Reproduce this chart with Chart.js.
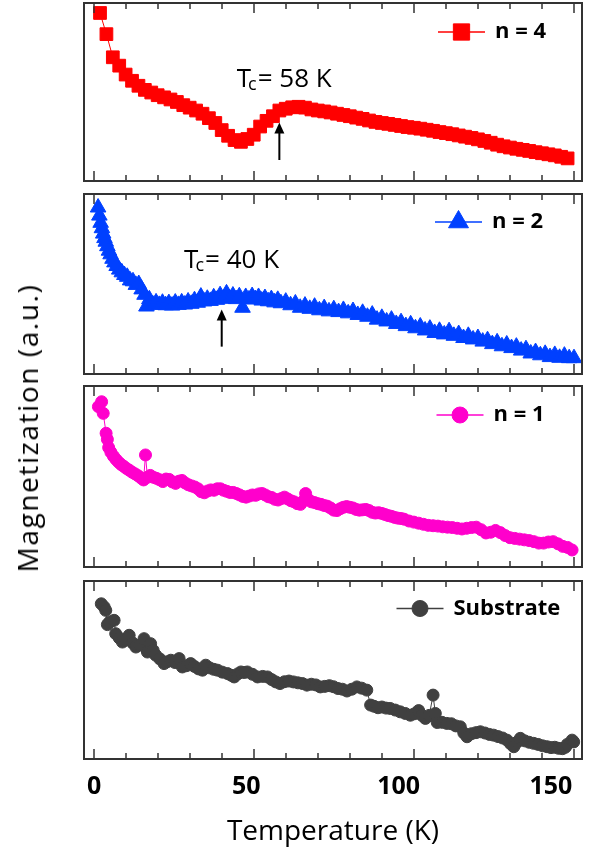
<!DOCTYPE html>
<html>
<head>
<meta charset="utf-8">
<script src="https://cdn.jsdelivr.net/npm/chart.js@4.4.0/dist/chart.umd.min.js"></script>
<style>
  body { margin: 0; background: #fff; }
  #wrap { position: relative; width: 603px; height: 854px; overflow: hidden; font-family: "Open Sans", "DejaVu Sans", sans-serif; }
  #wrap canvas { position: absolute; left: 0; }
  #ytitle {
    position: absolute; left: 27px; top: 428px;
    transform: translate(-50%, -50%) rotate(-90deg);
    white-space: nowrap; font-size: 28px; letter-spacing: 1.6px; color: #000;
  }
</style>
</head>
<body>
<div id="wrap">
  <canvas id="p1"></canvas>
  <canvas id="p2"></canvas>
  <canvas id="p3"></canvas>
  <canvas id="p4"></canvas>
  <div id="ytitle">Magnetization (a.u.)</div>
</div>
<script>
// temperature (K) and magnetization (a.u.) for each sample
const tempsN4 = [2,4,6,8,10,12,14,16,18,20,22,24,26,28,30,32,34,36,38,40,42,44,46,48,50,52,54,56,58,60,
  62,64,66,68,70,72,74,76,78,80,82,84,86,88,90,92,94,96,98,100,102,104,106,108,110,112,114,116,118,120,
  122,124,126,128,130,132,134,136,138,140,142,144,146,148];
const magN4 = [94.4,82.5,69.5,64.8,59.8,56.3,53.5,51.2,49.7,48.2,47,45.8,44.4,42.6,41.2,39.6,37.8,35.3,32.6,28.6,
  25.4,23,22,23.6,26,30.6,33.8,36.4,39.6,40.6,41.4,41.7,41.2,40.2,39.6,39.1,38.5,37.8,37.1,36.4,
  35.6,34.9,34,33.2,32.6,32.1,31.5,30.9,30.3,29.9,29.4,28.8,28.2,27.5,26.9,26.3,25.6,24.9,24.2,23.4,
  22.5,21.5,20.4,19.5,18.8,18.1,17.5,16.9,16.2,15.6,15,14.4,13.6,12.7];

const tempsN2 = [1.4,1.8,2.2,2.6,3.0,3.4,3.8,4.3,4.8,5.3,5.9,6.5,7.2,8.0,8.8,9.6,10.5,11.4,12.3,13.2,
  14.1,15.0,15.9,16.5,17.4,18.5,19.5,20.5,21.5,22.5,23.5,24.5,25.5,26.5,27.5,28.5,29.5,30.5,31.5,32.5,
  33.5,34.5,35.5,36.5,37.5,38.5,39.5,40.5,41.5,42.5,43.5,44.5,45.5,46.5,47.5,48.5,49.5,50.5,51.5,52.5,
  53.5,54.5,55.5,56.5,57.5,58.5,60,61.5,63,64.5,66,67.5,69,70.5,72,73.5,75,76.5,78,79.5,
  81,82.5,84,85.5,87,88.5,90,91.5,93,94.5,96,97.5,99,100.5,102,103.5,105,106.5,108,109.5,
  111,112.5,114,115.5,117,118.5,120,121.5,123,124.5,126,127.5,129,130.5,132,133.5,135,136.5,138,139.5,
  141,142.5,144,145.5,147,148.5,150];
const magN2 = [92.5,88,84,81,78,75.5,73.5,71,68.5,66.5,64,62,60,58,56.5,55,54,52,51.5,49.5,
  50,47,44,37.5,41.5,38.6,39.8,38.4,39.6,38.2,39.4,38,39.7,38.4,39.8,38.6,40.3,39,41,39.6,
  43,40.3,41.8,40.6,42.6,41.2,43.8,41.8,44.8,42,43.6,41.6,43.2,36.8,42.8,41.4,43.3,41.6,42.8,40.8,
  42.2,40.4,41.6,39.8,41.2,39.3,40.2,38.2,39.2,36.8,38,36.2,37.4,35.4,36.6,34.8,36,34.4,35.6,33.7,
  35,32.8,34,31.8,33,30.2,31.2,29.2,30.2,27.8,28.8,26.6,27.6,25.4,26.4,24.2,25.2,22.8,24,22,
  23.8,21.2,22.2,20,21.2,19.2,20,18,18.8,16.6,17.6,15.4,16.4,14.4,15.2,13,13.8,11.4,12.2,10.4,
  11.2,9.4,10.6,9,10.2,8.8,8.8];

const tempsN1 = [1.5,2.5,3.0,3.9,4.3,4.7,5.4,6.2,7.0,7.8,8.6,9.4,10.3,11.2,12.1,13.0,13.9,14.8,15.6,16.2,
  16.8,17.7,18.6,19.6,20.6,21.6,22.6,23.6,24.6,25.6,26.6,27.6,28.6,29.6,30.6,31.6,32.6,33.6,34.6,35.6,
  36.6,37.6,38.6,39.6,40.6,41.6,42.6,43.6,44.6,45.6,46.6,47.6,48.6,49.6,50.6,51.6,52.6,53.6,54.6,55.6,
  56.6,57.6,58.6,59.6,60.6,61.6,62.6,63.6,64.6,65.5,66.2,67,68,69,70,71,72,73,74,75,
  76,77,78,79,80,81,82,83,84,85,86,87,88,89,90,91,92,93,94,95,
  96,97,98.5,100,101.5,103,104.5,106,107.5,109,110.5,112,113.5,115,116.5,118,119.5,121,122.5,124,
  125.5,127,128.5,130,131.5,133,134.5,136,137.5,139,140.5,142,143.5,145,146.5,148,149.4];
const magN1 = [88.6,91.3,84.9,73.9,70.5,66,63.4,61.2,59.4,57.9,56.6,55.6,54.4,53.4,52.3,51.4,50.4,49.2,48.1,61.9,
  49.6,50.6,49.6,49,48.2,47.2,48.6,48.4,47,46.2,47.4,47.8,46.4,45.4,44.8,44.2,43.2,41.6,41,42,
  42.6,42.4,43.2,43.2,42.4,41.8,41.2,41.2,40.6,39.8,39,38.6,39.2,39.8,39.6,40.4,40.6,39.8,38.8,38.4,
  37.4,37,37.8,38.6,37.6,36.6,36,35,34.6,36.5,40.6,37.4,36,35.6,35,34.6,34,33.6,32.6,31.4,
  31.2,32.2,33,33.4,33,32.6,31.8,31.4,31.6,31.8,31.2,30.2,29.8,30,29.6,29,28.4,28,27.4,27,
  26.8,26.4,25.4,24.8,24.2,23.6,23,22.8,22.6,22.2,22,21.8,21.4,21,21.4,21.8,22,20.6,18.8,19.2,
  20.2,19,17.4,16.2,15.8,15.4,15,14.6,14,13.2,13.2,13.8,14,12.8,11.4,10.8,9.4];

const tempsSub = [2.4,3.3,3.8,4.3,5.0,6.4,6.9,8.0,9.0,10.0,11.1,12.2,13.2,14.5,15.75,16.8,17.8,18.6,19.4,20.7,
  22.0,23.0,24.1,25.4,26.7,27.7,29.0,30.3,31.5,32.8,34.0,35.0,36.2,37.5,38.7,40.2,41.8,43.0,43.9,45.0,
  46.0,47.0,48.0,49.6,51.2,52.8,54.3,55.6,56.9,58.2,59.6,61.0,62.4,63.8,65.2,66.6,68.0,69.4,70.8,72.2,
  73.6,74.9,76.3,77.7,79.1,80.6,82.2,83.7,85.3,86.5,87.6,88.8,90.0,91.3,92.6,94.2,95.75,97.3,98.9,100.2,
  101.5,102.6,103.6,104.8,106.0,106.7,107.3,108.8,110.3,111.7,113.1,114.5,115.6,116.6,118.0,119.4,120.75,122.2,123.6,124.9,
  126.3,127.7,129.1,130.2,131.2,132.2,133.25,134.6,136.0,137.4,138.8,140.2,141.6,142.8,144.0,145.2,146.4,147.3,147.9,149.4,
  149.9];
const magSub = [87.2,85.4,83.5,75.5,77,77.9,70.4,68,65.7,67,69.5,65.2,62.9,64,67.6,60.1,64.8,61,58.3,56.2,
  53.6,54.6,55.5,54.2,56.4,51.7,52.4,53.6,52,50.6,49.9,52.7,51.2,50.4,49.9,48.8,48,47,46.1,47.8,
  48.9,48.6,48.9,47.6,46.1,46.4,46.1,44.6,43.3,42.4,43.4,43.8,43.3,42.8,42.4,41.5,42,41.6,40.5,40.8,
  41.2,40.6,39.6,39.2,38.2,39.2,40.5,39.8,38.7,30.3,29.6,28.8,29.2,28.6,28.4,27.5,26.5,25.6,24.6,25.4,
  27.2,24.4,22.8,24.5,35.9,25.6,20.5,20.6,20,19.8,18.6,18.1,14.6,12.5,14.2,14.8,15.3,14.6,13.8,13.4,
  12.6,11.8,10.6,8.6,6.9,9.4,11.6,10.2,9.4,8.8,8.2,7.4,6.9,6.4,6.6,6,5.8,6.6,8.2,10.6,
  9.6];

// Curie temperatures marked with arrows
const tcN4 = 58;
const tcN2 = 40;

const xTickLabels = [0, 50, 100, 150];
const xTickMarks = [0, 10, 20, 30, 40, 50, 60, 70, 80, 90, 100, 110, 120, 130, 140, 150];

Chart.defaults.font.family = "'Open Sans', 'DejaVu Sans', sans-serif";

// frame, inward ticks, in-panel legend and Tc note
const decor = {
  id: 'decor',
  afterDatasetsDraw(chart, args, opts) {
    const { ctx, chartArea: a, scales: { x, y } } = chart;
    ctx.save();
    ctx.strokeStyle = '#333';
    ctx.lineWidth = 1.5;
    ctx.beginPath();
    xTickMarks.forEach(t => {
      const px = Math.round(x.getPixelForValue(t));
      const len = t % 50 === 0 ? 10 : 6;
      ctx.moveTo(px, a.top);
      ctx.lineTo(px, a.top + len);
      ctx.moveTo(px, a.bottom);
      ctx.lineTo(px, a.bottom - len);
    });
    ctx.stroke();
    ctx.lineWidth = 2;
    ctx.strokeRect(a.left, a.top, a.right - a.left, a.bottom - a.top);

    // legend: line through marker, bold label
    const ds = chart.data.datasets[0];
    const lx = a.left + opts.legendX;
    const ly = a.top + opts.legendY;
    ctx.strokeStyle = ds.borderColor;
    ctx.fillStyle = ds.backgroundColor;
    ctx.lineWidth = 1.5;
    ctx.beginPath();
    ctx.moveTo(lx, ly);
    ctx.lineTo(lx + 47, ly);
    ctx.stroke();
    ctx.lineWidth = 1;
    Chart.helpers.drawPoint(ctx, { pointStyle: ds.pointStyle, radius: opts.legendRadius, borderWidth: 1, rotation: 0 }, lx + 23.5, ly);
    ctx.fillStyle = '#000';
    ctx.font = "bold 22px 'Open Sans'";
    ctx.textBaseline = 'middle';
    ctx.textAlign = 'left';
    ctx.fillText(ds.label, lx + 57, ly);

    if (opts.tc !== undefined) {
      // "Tc = .. K" with subscript c
      let tx = x.getPixelForValue(opts.noteAt[0]);
      const ty = y.getPixelForValue(opts.noteAt[1]);
      ctx.textBaseline = 'alphabetic';
      ctx.font = "26px 'Open Sans'";
      ctx.fillText('T', tx, ty);
      tx += ctx.measureText('T').width - 3;
      ctx.font = "18px 'Open Sans'";
      ctx.fillText('c', tx, ty + 3);
      tx += ctx.measureText('c').width + 1;
      ctx.font = "26px 'Open Sans'";
      ctx.fillText('= ' + opts.tc + ' K', tx, ty);

      // arrow pointing up at Tc
      const ax = x.getPixelForValue(opts.tc);
      const tip = y.getPixelForValue(opts.arrow[0]);
      const base = y.getPixelForValue(opts.arrow[1]);
      ctx.strokeStyle = '#000';
      ctx.lineWidth = 2;
      ctx.beginPath();
      ctx.moveTo(ax, base);
      ctx.lineTo(ax, tip + 8);
      ctx.stroke();
      ctx.beginPath();
      ctx.moveTo(ax, tip);
      ctx.lineTo(ax - 5, tip + 11);
      ctx.lineTo(ax + 5, tip + 11);
      ctx.closePath();
      ctx.fill();
    }
    ctx.restore();
  }
};

function makePanel(id, top, height, label, temps, mags, color, style, radius, deco, showAxis) {
  const cv = document.getElementById(id);
  cv.width = 603;
  cv.height = height;
  cv.style.top = top + 'px';
  return new Chart(cv, {
    type: 'line',
    data: {
      datasets: [{
        label: label,
        data: temps.map((t, i) => ({ x: t, y: mags[i] })),
        borderColor: color,
        backgroundColor: color,
        borderWidth: 1,
        pointStyle: style,
        pointRadius: radius,
        pointBorderWidth: 1,
        tension: 0
      }]
    },
    options: {
      responsive: false,
      animation: false,
      events: [],
      layout: { padding: { top: 10, bottom: showAxis ? 0 : 10, left: 84, right: 21 } },
      plugins: { legend: { display: false }, tooltip: { enabled: false }, decor: deco },
      scales: {
        x: { type: 'linear', min: -3, max: 152.5, display: false },
        // label axis of the bottom panel; its labels sit a little left of the tick marks
        xl: {
          type: 'linear', position: 'bottom', min: -3.3, max: 160.2,
          display: showAxis,
          grid: { display: false },
          border: { display: false },
          afterBuildTicks: s => { s.ticks = xTickLabels.map(v => ({ value: v })); },
          afterFit: s => { if (showAxis) s.height = 95; },
          ticks: { color: '#000', font: { size: 25, weight: 'bold' }, padding: 5, maxRotation: 0, autoSkip: false },
          title: { display: true, text: 'Temperature (K)', color: '#000', font: { size: 28 }, padding: { top: 0, bottom: 5 } }
        },
        y: { min: 0, max: 100, display: false }
      }
    },
    plugins: [decor]
  });
}

makePanel('p1', -7, 198, 'n = 4', tempsN4, magN4, '#ff0000', 'rect', 9,
  { legendX: 354, legendY: 29, legendRadius: 11.5, tc: tcN4, noteAt: [44.7, 52.6], arrow: [32.8, 11.8] }, false);
makePanel('p2', 184, 200, 'n = 2', tempsN2, magN2, '#0040ff', 'triangle', 9,
  { legendX: 351, legendY: 28, legendRadius: 11.5, tc: tcN2, noteAt: [28.25, 58.7], arrow: [35.9, 15.2] }, false);
makePanel('p3', 376, 201, 'n = 1', tempsN1, magN1, '#ff00cc', 'circle', 6,
  { legendX: 352.5, legendY: 29, legendRadius: 8 }, false);
makePanel('p4', 571, 283, 'Substrate', tempsSub, magSub, '#404040', 'circle', 6,
  { legendX: 312.5, legendY: 27.5, legendRadius: 8 }, true);
</script>
</body>
</html>
